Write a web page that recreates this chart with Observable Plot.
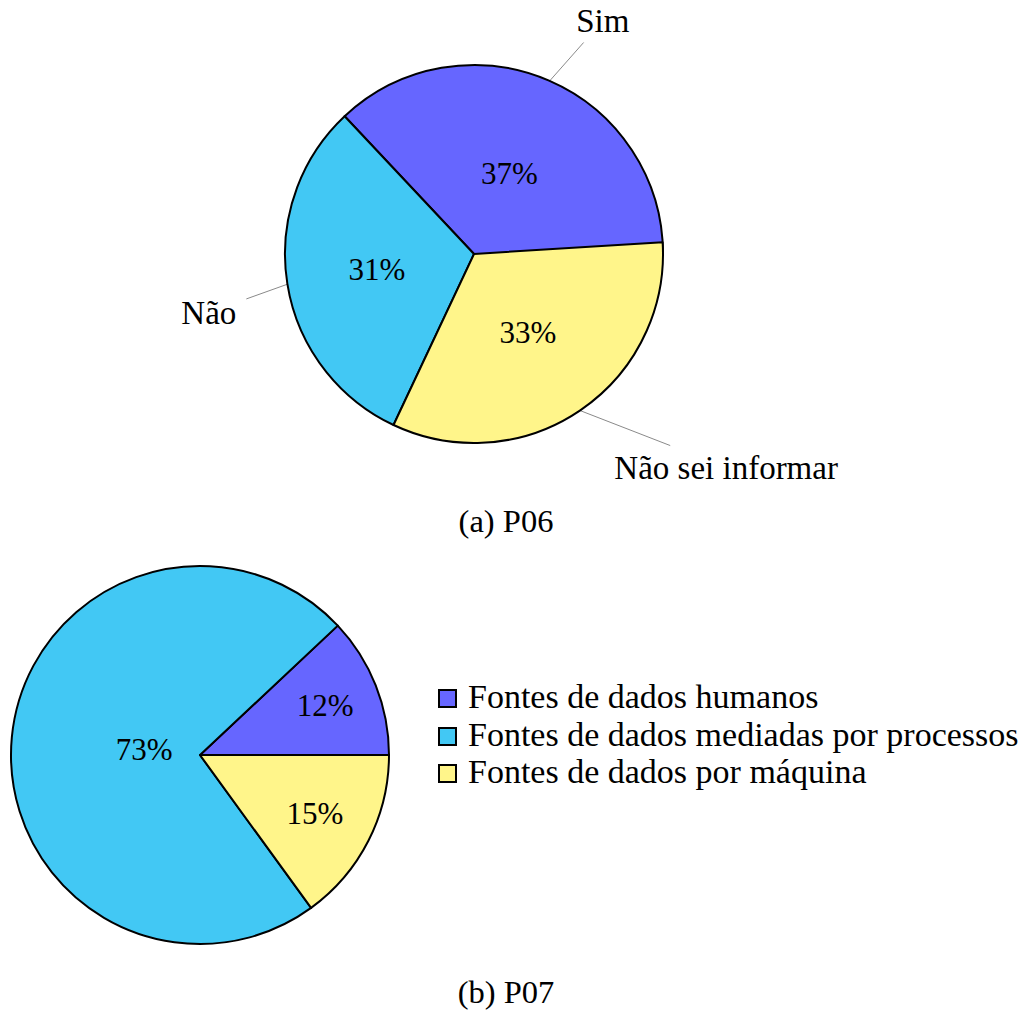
<!DOCTYPE html>
<html>
<head>
<meta charset="utf-8">
<script src="https://cdn.jsdelivr.net/npm/d3@7"></script>
<script src="https://cdn.jsdelivr.net/npm/@observablehq/plot@0.6"></script>
<style>
  html, body { margin: 0; padding: 0; background: #fff; overflow: hidden; }
  body { font-family: "Liberation Serif", "DejaVu Serif", serif; color: #000; }
  #page { position: relative; width: 1025px; height: 1014px; }
  #page svg { position: absolute; background: none; }
  .caption { position: absolute; left: 0; width: 1012px; text-align: center; font-size: 32.5px; line-height: 40px; }
  .legend { position: absolute; font-size: 34px; line-height: 37.6px; white-space: nowrap; }
  .swatch { display: inline-block; width: 15px; height: 15px; border: 2px solid #000; margin-right: 11px; vertical-align: baseline; }
</style>
</head>
<body>
<div id="page"></div>
<script>
// P06 answers
const p06Labels = ["Sim", "Não", "Não sei informar"];
const p06Values = [37, 31, 33];

// P07 data sources
const p07Labels = [
  "Fontes de dados humanos",
  "Fontes de dados mediadas por processos",
  "Fontes de dados por máquina"
];
const p07Values = [12, 73, 15];

const sliceColors = ["#6666ff", "#42c8f4", "#fff58a"];

const FONT = '"Liberation Serif", "DejaVu Serif", serif';
const R = 189;              // pie radius in pixels (1 unit on both axes)
const PIN = 42 / R;         // pin length beyond the rim
const SEP = 10 / R;         // padding around the pin labels
const PIN_SIZE = 33;        // font size of the pinned labels

const ctx = document.createElement("canvas").getContext("2d");
function textWidth(text, size) {
  ctx.font = `${size}px "Liberation Serif"`;
  return ctx.measureText(text).width / R;
}

// Slices go counter-clockwise from 3 o'clock, each value taken as a share of 100.
function slicesOf(labels, values) {
  let acc = 0;
  return labels.map((label, i) => {
    const a0 = acc * 3.6, a1 = (acc + values[i]) * 3.6;
    acc += values[i];
    const mid = ((a0 + a1) / 2) * Math.PI / 180;
    const span = a1 - a0;
    const inner = Math.max(Math.min(((span - 10) / 110) * -0.3, 0), -0.5) + 0.8;
    return {
      label, value: values[i], a0, a1, mid,
      pctX: inner * Math.cos(mid), pctY: inner * Math.sin(mid)
    };
  });
}

// Labels pinned outside the rim, with a leader clipped at the label box.
function pinsOf(slices, size) {
  return slices.map(s => {
    const ex = Math.cos(s.mid), ey = Math.sin(s.mid);
    const px = ex * (1 + PIN), py = ey * (1 + PIN);
    const h = ex > 0.38 ? "start" : ex < -0.38 ? "end" : "middle";
    const v = ey >= 0 ? "bottom" : "top";
    const tx = px + (h === "start" ? SEP : h === "end" ? -SEP : 0);
    const ty = py + (v === "bottom" ? SEP : -SEP);
    const w = textWidth(s.label, size), capH = 0.71 * size / R;
    const left = h === "start" ? tx : h === "end" ? tx - w : tx - w / 2;
    const base = v === "bottom" ? ty : ty - capH;
    const bl = left - SEP, br = left + w + SEP, bb = base - SEP, bt = base + capH + SEP;
    const cx = (bl + br) / 2, cy = (bb + bt) / 2, hw = (br - bl) / 2, hh = (bt - bb) / 2;
    const dx = cx - ex, dy = cy - ey;
    const k = Math.min(hw / Math.abs(dx), hh / Math.abs(dy));
    return {...s, tx, ty, h, v, x1: ex, y1: ey, x2: cx - k * dx, y2: cy - k * dy};
  });
}

// Filled wedges drawn with d3.arc, centred and sized by the plot's x/y scales.
function pieMark(slices, color) {
  return (index, scales) => {
    const cx = scales.x(0), cy = scales.y(0), r = scales.x(1) - cx;
    const arc = d3.arc().innerRadius(0).outerRadius(r)
      .startAngle(d => Math.PI / 2 - d.a1 * Math.PI / 180)
      .endAngle(d => Math.PI / 2 - d.a0 * Math.PI / 180);
    const g = d3.create("svg:g").attr("transform", `translate(${cx},${cy})`);
    g.selectAll("path").data(slices).join("path")
      .attr("d", arc)
      .attr("fill", d => color.apply(d.label))
      .attr("stroke", "#000")
      .attr("stroke-width", 2)
      .attr("stroke-linejoin", "round");
    return g.node();
  };
}

function frame(width, height, cx, cy) {
  return {
    width, height, margin: 0,
    x: {domain: [-cx / R, (width - cx) / R], range: [0, width], axis: null},
    y: {domain: [-(height - cy) / R, cy / R], range: [height, 0], axis: null},
    style: {fontFamily: FONT, background: "none", overflow: "visible"}
  };
}

const page = document.getElementById("page");

// (a) P06
const colorA = Plot.scale({color: {type: "ordinal", domain: p06Labels, range: sliceColors}});
const slicesA = slicesOf(p06Labels, p06Values);
const pinsA = pinsOf(slicesA, PIN_SIZE);
const pinTexts = d3.groups(pinsA, d => d.h + "|" + d.v).map(([, rows]) =>
  Plot.text(rows, {
    x: "tx", y: "ty", text: "label",
    textAnchor: rows[0].h, lineAnchor: rows[0].v,
    fontSize: PIN_SIZE, fontFamily: FONT, fill: "#000"
  })
);
const plotA = Plot.plot({
  ...frame(1025, 495, 474, 254),
  marks: [
    Plot.link(pinsA, {x1: "x1", y1: "y1", x2: "x2", y2: "y2", stroke: "#8a8a8a", strokeWidth: 1}),
    pieMark(slicesA, colorA),
    Plot.text(slicesA, {x: "pctX", y: "pctY", text: d => `${d.value}%`, fontSize: 31, fontFamily: FONT, fill: "#000"}),
    ...pinTexts
  ]
});
plotA.style.left = "0px";
plotA.style.top = "0px";
page.appendChild(plotA);

const capA = document.createElement("div");
capA.className = "caption";
capA.style.top = "501px";
capA.textContent = "(a) P06";
page.appendChild(capA);

// (b) P07
const colorB = Plot.scale({color: {type: "ordinal", domain: p07Labels, range: sliceColors}});
const slicesB = slicesOf(p07Labels, p07Values);
const plotB = Plot.plot({
  ...frame(430, 410, 200, 205),
  marks: [
    pieMark(slicesB, colorB),
    Plot.text(slicesB, {x: "pctX", y: "pctY", text: d => `${d.value}%`, fontSize: 31, fontFamily: FONT, fill: "#000"})
  ]
});
plotB.style.left = "0px";
plotB.style.top = "550px";
page.appendChild(plotB);

const legend = d3.select(page).append("div")
  .attr("class", "legend")
  .style("left", "438px")
  .style("top", "678px");
const rows = legend.selectAll("div").data(p07Labels).join("div");
rows.append("span").attr("class", "swatch").style("background", d => colorB.apply(d));
rows.append("span").text(d => d);

const capB = document.createElement("div");
capB.className = "caption";
capB.style.top = "972px";
capB.textContent = "(b) P07";
page.appendChild(capB);
</script>
</body>
</html>
